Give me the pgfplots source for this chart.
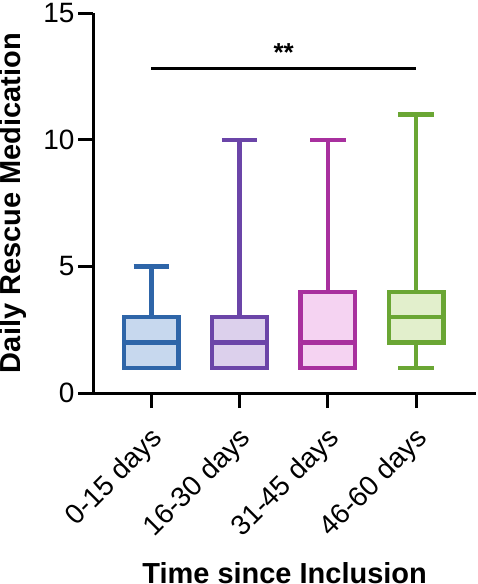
\documentclass[border=0pt]{standalone}
\usepackage{fontspec}
\setmainfont{Liberation Sans}
\usepackage{pgfplots}
\pgfplotsset{compat=1.18}
\usepgfplotslibrary{statistics}
\definecolor{cblue}{HTML}{2E65A8}
\definecolor{cblueL}{HTML}{C7D8EE}
\definecolor{cpurp}{HTML}{6B45A8}
\definecolor{cpurpL}{HTML}{DCD0EC}
\definecolor{cmag}{HTML}{A8309E}
\definecolor{cmagL}{HTML}{F5D3F2}
\definecolor{cgrn}{HTML}{6AA634}
\definecolor{cgrnL}{HTML}{E2EFCC}
\begin{document}
\begin{tikzpicture}
\begin{axis}[
  scale only axis, width=382bp, height=379bp,
  xmin=-0.66, xmax=3.68, ymin=0, ymax=15,
  axis lines*=left,
  axis line style={line width=3bp, black},
  xtick={0,1,2,3},
  xticklabels={0-15 days,16-30 days,31-45 days,46-60 days},
  ytick={0,5,10,15},
  tick align=outside, major tick length=15bp,
  tick style={line width=3bp, black},
  /pgf/number format/assume math mode=true,
  ticklabel style={font=\fontsize{28}{30}\selectfont},
  x tick label style={xshift=-2bp, yshift=-17bp, rotate=45, anchor=north east, inner sep=0pt},
  ylabel={Daily Rescue Medication},
  xlabel={Time since Inclusion},
  label style={font=\fontsize{29}{32}\selectfont\bfseries, inner sep=0pt},
  xlabel style={at={(axis description cs:0.5,0)}, anchor=base, yshift=-190bp},
  ylabel style={at={(axis description cs:0,0.5)}, anchor=north, yshift=93bp},
  boxplot/draw direction=y,
  clip=false,
]
\addplot[draw=cblue, fill=cblueL, line width=4.5bp,
  boxplot prepared={draw position=0, lower whisker=1, lower quartile=1,
  median=2, upper quartile=3, upper whisker=5, box extend=0.62, whisker extend=0.4}]
  coordinates {};
\addplot[draw=cpurp, fill=cpurpL, line width=4.5bp,
  boxplot prepared={draw position=1, lower whisker=1, lower quartile=1,
  median=2, upper quartile=3, upper whisker=10, box extend=0.62, whisker extend=0.4}]
  coordinates {};
\addplot[draw=cmag, fill=cmagL, line width=4.5bp,
  boxplot prepared={draw position=2, lower whisker=1, lower quartile=1,
  median=2, upper quartile=4, upper whisker=10, box extend=0.62, whisker extend=0.4}]
  coordinates {};
\addplot[draw=cgrn, fill=cgrnL, line width=4.5bp,
  boxplot prepared={draw position=3, lower whisker=1, lower quartile=2,
  median=3, upper quartile=4, upper whisker=11, box extend=0.62, whisker extend=0.4}]
  coordinates {};
\addplot[black, line width=3bp] coordinates {(0,12.8) (3,12.8)};
\node[font=\fontsize{26}{30}\selectfont\bfseries] at (axis cs:1.5,13.45) {**};
\end{axis}
\end{tikzpicture}
\end{document}
